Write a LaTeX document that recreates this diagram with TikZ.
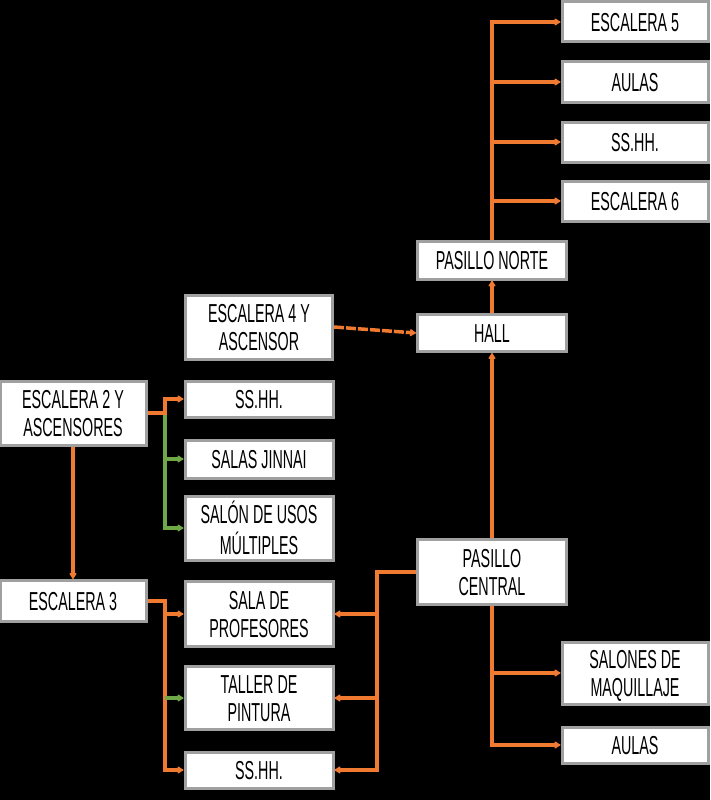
\documentclass[tikz,border=0pt]{standalone}
\usepackage{fontspec}
\setmainfont{Liberation Sans}
\usetikzlibrary{arrows.meta}
\definecolor{boxgray}{RGB}{160,160,160}
\definecolor{conor}{RGB}{240,122,48}
\definecolor{congr}{RGB}{112,168,72}
\newcommand{\lbl}[1]{\raisebox{-4pt}[\height][\depth]{\scalebox{0.55}[1]{\begin{tabular}{@{}c@{}}#1\end{tabular}}}}
\begin{document}
\begin{tikzpicture}[x=1pt,y=-1pt,
  box/.style={draw=boxgray, line width=3pt, fill=white, minimum width=146pt, minimum height=38pt, inner sep=0pt, font=\fontsize{26}{27.5}\selectfont, text=black},
  tall/.style={minimum height=64pt},
  con/.style={draw=conor, line width=3.5pt, -{Latex[length=7pt,width=9pt,round]}},
  gcon/.style={draw=congr, line width=3.5pt, -{Latex[length=7pt,width=9pt,round]}},
  gline/.style={draw=congr, line width=3.5pt}]
\fill[black] (0,0) rectangle (710,800);
\useasboundingbox (0,0) rectangle (710,800);
% nodes
\node[box, minimum height=40pt] (e5) at (635,22) {\lbl{ESCALERA 5}};
\node[box, minimum height=40pt] (au1) at (635,82) {\lbl{AULAS}};
\node[box, minimum height=40pt] (ss1) at (635,142) {\lbl{SS.HH.}};
\node[box, minimum height=40pt] (e6) at (635,201) {\lbl{ESCALERA 6}};
\node[box, minimum width=149pt] (pn) at (492,260) {\lbl{PASILLO NORTE}};
\node[box, minimum width=149pt, minimum height=37pt] (hall) at (492,333) {\lbl{HALL}};
\node[box, tall, minimum width=147pt] (e4) at (259,327) {\lbl{ESCALERA 4 Y\\ASCENSOR}};
\node[box, tall] (e2) at (73,413) {\lbl{ESCALERA 2 Y\\ASCENSORES}};
\node[box, minimum width=148pt, minimum height=36pt] (ss2) at (259,399) {\lbl{SS.HH.}};
\node[box, minimum width=148pt] (sj) at (259,459) {\lbl{SALAS JINNAI}};
\node[box, tall, minimum width=148pt] (sum) at (259,528) {\lbl{SALÓN DE USOS\\MÚLTIPLES}};
\node[box, tall, minimum width=149pt, minimum height=65pt] (pc) at (492,572) {\lbl{PASILLO\\CENTRAL}};
\node[box, minimum height=41pt] (e3) at (73,601) {\lbl{ESCALERA 3}};
\node[box, tall, minimum width=148pt, minimum height=65pt] (sp) at (259,614) {\lbl{SALA DE\\PROFESORES}};
\node[box, tall, minimum width=148pt, minimum height=63pt] (tp) at (259,698) {\lbl{TALLER DE\\PINTURA}};
\node[box, minimum width=148pt, minimum height=36pt] (ss3) at (259,770) {\lbl{SS.HH.}};
\node[box, tall, minimum height=62pt] (sm) at (635,673) {\lbl{SALONES DE\\MAQUILLAJE}};
\node[box, minimum height=36pt] (au2) at (635,745) {\lbl{AULAS}};
% junctions
\coordinate (j2) at (165,413);
\coordinate (j3) at (165,601);
\coordinate (jc) at (377,572);
% north corridor
\draw[con] (pn.north) |- (e5.west);
\draw[con] (pn.north) |- (au1.west);
\draw[con] (pn.north) |- (ss1.west);
\draw[con] (pn.north) |- (e6.west);
\draw[con] (hall.north) -- (pn.south);
\draw[con] (pc.north) -- (hall.south);
\draw[con, dashed, dash pattern=on 10pt off 2pt] (e4.east) -- (hall.west);
% escalera 2
\draw[gline] (e2.east) -- (j2) -- (j2 |- sum.west);
\draw[gcon] (j2) |- (sj.west);
\draw[gcon] (j2) |- (sum.west);
\draw[con] (e2.east) -- (j2) |- (ss2.west);
\draw[con] (e2.south) -- (e3.north);
% escalera 3
\draw[con] (e3.east) -- (j3) |- (sp.west);
\draw[con] (e3.east) -- (j3) |- (ss3.west);
\draw[gcon] (j3 |- tp.west) -- (tp.west);
% pasillo central
\draw[con] (pc.west) -- (jc) |- (sp.east);
\draw[con] (pc.west) -- (jc) |- (tp.east);
\draw[con] (pc.west) -- (jc) |- (ss3.east);
\draw[con] (pc.south) |- (sm.west);
\draw[con] (pc.south) |- (au2.west);
\end{tikzpicture}
\end{document}
